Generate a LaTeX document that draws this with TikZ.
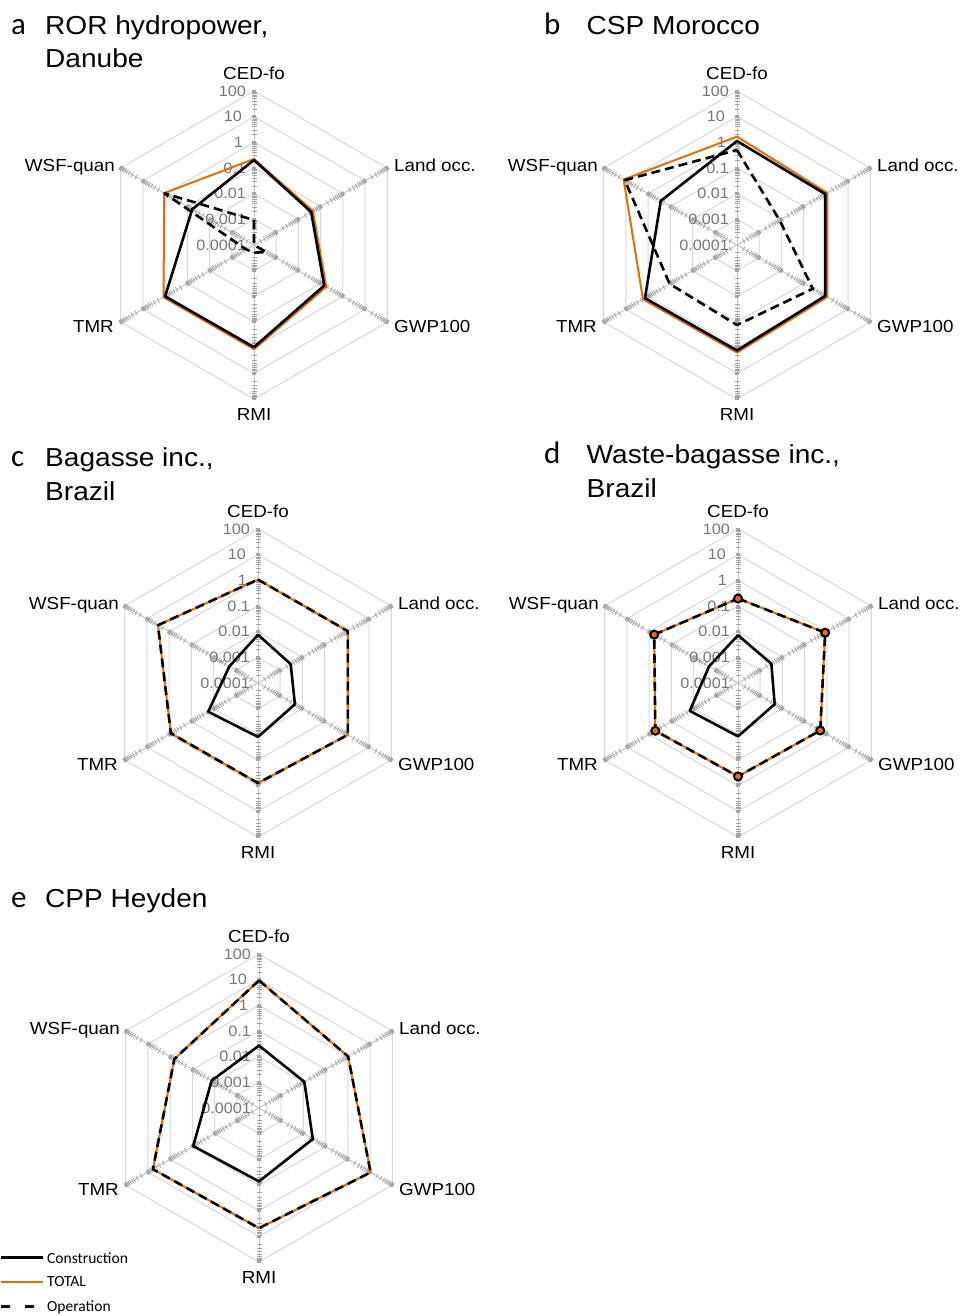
\documentclass[tikz,border=0pt]{standalone}
\usepackage{fontspec}
\setmainfont{Liberation Sans}[FakeStretch=1.08]
\newfontfamily\calfont{Carlito}
\definecolor{ringc}{HTML}{D9D9D9}
\definecolor{axc}{HTML}{C4C4C4}
\definecolor{tickc}{HTML}{A4A4A4}
\definecolor{labc}{HTML}{767676}
\definecolor{orng}{HTML}{E46C0A}
\newcommand{\rstep}{25.67}
\tikzset{
 rgring/.style={draw=ringc, line width=1pt},
 rgaxis/.style={draw=axc, line width=1pt},
 rgminor/.style={draw=tickc, line width=0.8pt},
 rgmajor/.style={draw=tickc, line width=2.4pt},
 rgticklab/.style={font=\fontsize{15}{15}\selectfont, text=labc, inner sep=0pt, anchor=east},
 rgaxlab/.style={font=\fontsize{17.4}{18}\selectfont, inner sep=0pt},
 rgtitle/.style={font=\fontsize{26}{30}\selectfont, inner sep=0pt, anchor=base west},
 rgletter/.style={font=\calfont\fontsize{31}{31}\selectfont, inner sep=0pt, anchor=base west},
 totalline/.style={draw=orng, line width=2pt, line join=round},
 conline/.style={draw=black, line width=2.6pt, line join=round},
 opline/.style={draw=black, line width=2.6pt, dash pattern=on 9pt off 5pt, line join=round},
 rgmarker/.style={draw=black, line width=2pt, fill=orng},
 legtext/.style={font=\calfont\fontsize{15.5}{16}\selectfont, inner sep=0pt, anchor=west},
}
% #1 name, #2 cx, #3 cy (top-down pixels)
\newcommand{\radargrid}[3]{%
 \coordinate (#1c) at (#2,{1316-#3});
 \begin{scope}[shift={(#1c)}]
  \foreach \l in {1,...,6}{%
   \draw[rgring] (90:{\l*\rstep}) -- (30:{\l*\rstep}) -- (-30:{\l*\rstep}) -- (-90:{\l*\rstep}) -- (-150:{\l*\rstep}) -- (150:{\l*\rstep}) -- cycle;}
  \foreach \a in {90,30,-30,-90,-150,150}{%
   \draw[rgaxis] (0,0) -- (\a:{6*\rstep});
   \begin{scope}[rotate=\a]
    \foreach \k in {0,...,5}{\foreach \f in {0.30103,0.47712,0.60206,0.69897,0.77815,0.84510,0.90309,0.95424}{%
      \draw[rgminor] ({(\k+\f)*\rstep},-2.5) -- ({(\k+\f)*\rstep},2.5);}}
    \foreach \k in {1,...,6}{\draw[rgmajor] ({\k*\rstep},-2.2) -- ({\k*\rstep},2.2);}
   \end{scope}}
  \node[rgticklab] (#1t6) at (-8,{6*\rstep}) {100};
  \node[rgticklab] (#1t5) at (-12,{5*\rstep}) {10};
  \node[rgticklab] (#1t4) at (-11,{4*\rstep}) {1};
  \node[rgticklab] (#1t3) at (-8,{3*\rstep}) {0.1};
  \node[rgticklab] (#1t2) at (-8,{2*\rstep}) {0.01};
  \node[rgticklab] (#1t1) at (-8,{1*\rstep}) {0.001};
  \node[rgticklab] (#1t0) at (-8,0) {0.0001};
  \node[rgaxlab, anchor=base] (#1ced) at (0,165) {CED-fo};
  \node[rgaxlab, anchor=base west] (#1land) at (140,73) {Land occ.};
  \node[rgaxlab, anchor=base west] (#1gwp) at (140,-88) {GWP100};
  \node[rgaxlab, anchor=base] (#1rmi) at (0,-175.7) {RMI};
  \node[rgaxlab, anchor=base east] (#1tmr) at (-140,-88) {TMR};
  \node[rgaxlab, anchor=base east] (#1wsf) at (-139,73) {WSF-quan};
 \end{scope}}
% #1 style, #2 chart name, #3..#8 levels: CED, Land, GWP, RMI, TMR, WSF
\newcommand{\rgseries}[8]{%
 \draw[#1, shift={(#2c)}] (90:{#3*\rstep}) -- (30:{#4*\rstep}) -- (-30:{#5*\rstep}) -- (-90:{#6*\rstep}) -- (-150:{#7*\rstep}) -- (150:{#8*\rstep}) -- cycle;}
\newcommand{\rgmarks}[7]{%
 \begin{scope}[shift={(#1c)}]
  \foreach \a/\v in {90/#2,30/#3,-30/#4,-90/#5,-150/#6,150/#7}{\draw[rgmarker] (\a:{\v*\rstep}) circle (4);}
 \end{scope}}
\begin{document}
\begin{tikzpicture}[x=1pt,y=1pt]
\fill[white] (0,0) rectangle (960,1316);
\useasboundingbox (0,0) rectangle (960,1316);

% grids
\radargrid{A}{254}{245}
\radargrid{B}{737}{245}
\radargrid{C}{258}{683}
\radargrid{D}{738}{683}
\radargrid{E}{259}{1108}

% titles
\node[rgletter] (la) at (11,{1316-34.5}) {a};
\node[rgtitle] (ta1) at (45,{1316-34.5}) {ROR hydropower,};
\node[rgtitle] (ta2) at (45,{1316-68}) {Danube};
\node[rgletter] (lb) at (544,{1316-35}) {b};
\node[rgtitle] (tb1) at (586.5,{1316-35}) {CSP Morocco};
\node[rgletter] (lc) at (11,{1316-467}) {c};
\node[rgtitle] (tc1) at (45,{1316-467}) {Bagasse inc.,};
\node[rgtitle] (tc2) at (45,{1316-501}) {Brazil};
\node[rgletter] (ld) at (544,{1316-464}) {d};
\node[rgtitle] (td1) at (586.5,{1316-464}) {Waste-bagasse inc.,};
\node[rgtitle] (td2) at (586.5,{1316-498}) {Brazil};
\node[rgletter] (le) at (11,{1316-908}) {e};
\node[rgtitle] (te1) at (45,{1316-908}) {CPP Heyden};

% chart a
\rgseries{totalline}{A}{3.35}{2.65}{3.25}{4.06}{4.07}{4.04}
\rgseries{conline}{A}{3.31}{2.57}{3.16}{3.98}{4.0}{2.78}
\rgseries{opline}{A}{0.97}{0}{0.55}{0.3}{0.35}{4.02}
% chart b
\rgseries{totalline}{B}{4.22}{4.06}{4.06}{4.19}{4.23}{5.10}
\rgseries{conline}{B}{4.05}{3.97}{3.97}{4.11}{4.14}{3.43}
\rgseries{opline}{B}{3.7}{1.92}{3.41}{3.12}{3.03}{5.05}
% chart c
\rgseries{totalline}{C}{4.03}{4.04}{4.04}{3.9}{3.92}{4.5}
\rgseries{opline}{C}{4.03}{4.04}{4.04}{3.9}{3.92}{4.5}
\rgseries{conline}{C}{1.88}{1.47}{1.66}{2.1}{2.24}{1.29}
% chart d
\rgseries{totalline}{D}{3.29}{3.92}{3.7}{3.64}{3.72}{3.77}
\rgseries{opline}{D}{3.29}{3.92}{3.7}{3.64}{3.72}{3.77}
\rgmarks{D}{3.29}{3.92}{3.7}{3.64}{3.72}{3.77}
\rgseries{conline}{D}{1.86}{1.5}{1.65}{2.08}{2.17}{1.3}
% chart e
\rgseries{totalline}{E}{4.97}{4.01}{5.02}{4.68}{4.77}{3.81}
\rgseries{opline}{E}{4.97}{4.01}{5.02}{4.68}{4.77}{3.81}
\rgseries{conline}{E}{2.43}{2.04}{2.42}{2.86}{2.96}{2.13}

% legend
\coordinate (lg1a) at (1,{1316-1258});
\coordinate (lg1b) at (43,{1316-1258});
\coordinate (lg2a) at (1,{1316-1282});
\coordinate (lg2b) at (43,{1316-1282});
\coordinate (lg3a) at (1,{1316-1307});
\coordinate (lg3b) at (36,{1316-1307});
\draw[black, line width=3pt] (lg1a) -- (lg1b);
\draw[orng, line width=2pt] (lg2a) -- (lg2b);
\draw[black, line width=3pt, dash pattern=on 9pt off 15pt] (lg3a) -- (lg3b);
\node[legtext] (lgt1) at (47,{1316-1258}) {Construction};
\node[legtext] (lgt2) at (47,{1316-1282}) {TOTAL};
\node[legtext] (lgt3) at (47,{1316-1307}) {Operation};
\end{tikzpicture}
\end{document}
